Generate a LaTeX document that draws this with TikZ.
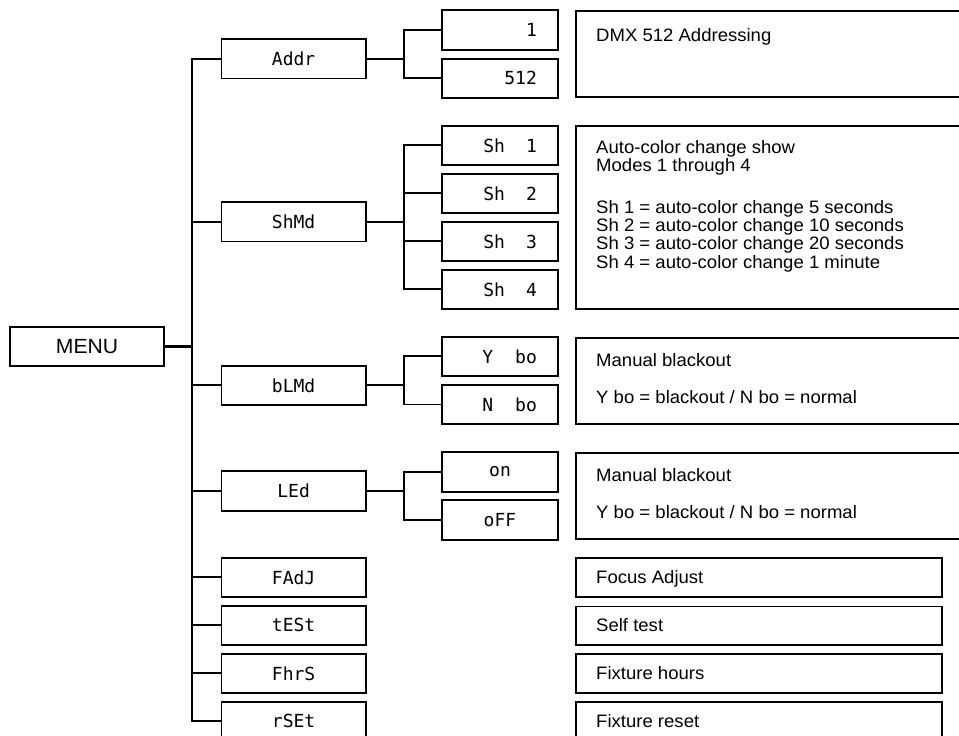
\documentclass[tikz,border=0pt]{standalone}
\usepackage{fontspec}
\setmainfont{Liberation Sans}[FakeStretch=1.03]
\newfontfamily\segfont{DejaVu Sans Mono}
\tikzset{
  lvlbox/.style={draw, line width=1.9pt, minimum width=144.3pt, minimum height=39.3pt, inner sep=0pt, font=\segfont\fontsize{18}{18}\selectfont},
  subbox/.style={draw, line width=1.9pt, minimum height=39.3pt, text width=73.7pt, inner xsep=21pt, inner ysep=0pt, align=right, font=\segfont\fontsize{18}{18}\selectfont},
  descbox/.style={draw, line width=1.9pt, inner sep=0pt},
  desc/.style={anchor=base west, inner sep=0pt, font=\fontsize{18}{18}\selectfont},
  link/.style={line width=1.9pt, line cap=rect}
}
\begin{document}
\begin{tikzpicture}[x=1pt, y=-1pt]
\useasboundingbox (0,0) rectangle (959,736);
\clip (0,0) rectangle (959,736);
\node [draw, line width=1.9pt, minimum width=154.7pt, minimum height=38.7pt, inner sep=0pt, font=\fontsize{20.5}{20.5}\selectfont] (menu) at (87,346.3) {MENU};
\foreach \name/\txt/\y in {addr/Addr/58.8, shmd/ShMd/221.8, blmd/bLMd/385.3, led/LEd/491, fadj/FAdJ/577.3, test/tESt/625.3, fhrs/FhrS/673.3, rset/rSEt/721.3}
  \node [lvlbox] (\name) at (293.6,\y) {\txt};
\foreach \name/\txt/\y in {a1/1/30, a512/512/78.3, sh1/Sh\hspace{21pt}1/145.3, sh2/Sh\hspace{21pt}2/193.3, sh3/Sh\hspace{21pt}3/241.3, sh4/Sh\hspace{21pt}4/289.3, ybo/Y\hspace{22pt}bo/356.3, nbo/N\hspace{22pt}bo/404.5}
  \node [subbox] (\name) at (500,\y) {\txt};
\node [subbox, align=center] (on) at (500,472) {on};
\node [subbox, align=center] (off) at (500,520) {oFF};
\coordinate (trunk) at (192.2,0);
\coordinate (fork) at (403.6,0);
\draw [link] (addr.west -| trunk) -- (rset.west -| trunk);
\draw [link, line width=2.4pt] (menu.east) -- (menu.east -| trunk);
\foreach \n in {addr,shmd,blmd,led,fadj,test,fhrs,rset}
  \draw [link] (\n.west -| trunk) -- (\n.west);
\foreach \p/\first/\last in {addr/a1/a512, shmd/sh1/sh4, blmd/ybo/nbo, led/on/off} {
  \draw [link] (\p.east) -- (\p.east -| fork);
  \draw [link] (\first.west -| fork) -- (\last.west -| fork);
}
\foreach \s in {a1,a512,sh1,sh2,sh3,sh4,ybo,nbo,on,off}
  \draw [link] (\s.west -| fork) -- (\s.west);
\node [descbox, minimum width=394pt, minimum height=86.3pt] (bAddr) at (773,54.15) {};
\node [descbox, minimum width=394pt, minimum height=183pt] (bShow) at (773,217.5) {};
\node [descbox, minimum width=394pt, minimum height=86.6pt] (bBlack) at (773,381) {};
\node [descbox, minimum width=394pt, minimum height=86.6pt] (bLed) at (773,496) {};
\foreach \name/\y in {bFocus/577.65, bTest/625.85, bHours/673.65, bReset/721.65}
  \node [descbox, minimum width=366pt, minimum height=38.7pt] (\name) at (759,\y) {};
\node [desc] (tAddr) at (596,41.5) {DMX 512 Addressing};
\node [desc] (tShow) at (596,153.2) {Auto-color change show};
\node [desc] (tModes) at (596,171.5) {Modes 1 through 4};
\foreach \n/\t/\y in {1/5 seconds/213.2, 2/10 seconds/231.5, 3/20 seconds/249.8, 4/1 minute/268.2}
  \node [desc] (tSh\n) at (596,\y) {Sh \n{} = auto-color change \t};
\node [desc] (tBlack) at (596,366.5) {Manual blackout};
\node [desc] (tBlackYN) at (596,403.8) {Y bo = blackout / N bo = normal};
\node [desc] (tLed) at (596,481.5) {Manual blackout};
\node [desc] (tLedYN) at (596,518.8) {Y bo = blackout / N bo = normal};
\node [desc] (tFocus) at (596,583.2) {Focus Adjust};
\node [desc] (tTest) at (596,631.5) {Self test};
\node [desc] (tHours) at (596,679.2) {Fixture hours};
\node [desc] (tReset) at (596,727.2) {Fixture reset};
\end{tikzpicture}
\end{document}
